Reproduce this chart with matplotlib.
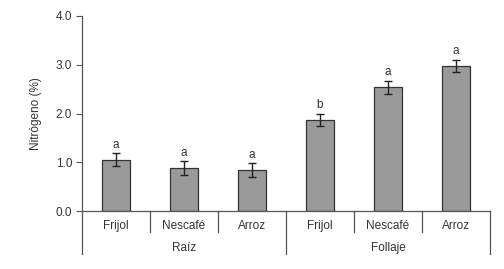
import numpy as np
import matplotlib.pyplot as plt
import matplotlib.transforms as mtransforms

plt.rcParams['font.family'] = ['Liberation Sans', 'DejaVu Sans']

categories = ['Frijol', 'Nescafé', 'Arroz', 'Frijol', 'Nescafé', 'Arroz']
groups = ['Raíz', 'Follaje']
values = [1.05, 0.88, 0.84, 1.87, 2.54, 2.98]
errors = [0.13, 0.14, 0.14, 0.13, 0.13, 0.12]
letters = ['a', 'a', 'a', 'b', 'a', 'a']
yticks = [0.0, 1.0, 2.0, 3.0, 4.0]

fig = plt.figure(figsize=(5.04, 2.69), dpi=100)
ax = fig.add_axes([82 / 504, 1 - 211 / 269, 408 / 504, 195 / 269])

line_col = '#555555'
text_col = '#333333'
fs = 8.5

x = np.arange(len(values))
ax.bar(x, values, width=0.42, color='#9a9a9a', edgecolor='#333333', linewidth=0.9, zorder=2)
ax.errorbar(x, values, yerr=errors, fmt='none', ecolor='#222222', elinewidth=1.0,
            capsize=3, capthick=1.0, zorder=3)
for xi, v, e, l in zip(x, values, errors, letters):
    ax.text(xi, v + e + 0.05, l, ha='center', va='bottom', fontsize=fs, color=text_col)

ax.set_xlim(-0.5, len(values) - 0.5)
ax.set_ylim(0, 4.0)
ax.set_yticks(yticks)
ax.set_yticklabels([f'{t:.1f}' for t in yticks], fontsize=fs, color=text_col)
ax.tick_params(axis='y', direction='out', length=4, width=0.8, color=line_col, pad=3)
ax.set_xticks([])
ax.set_ylabel('Nitrógeno (%)', fontsize=fs, color=text_col, labelpad=10)

for s in ['top', 'right']:
    ax.spines[s].set_visible(False)
ax.spines['left'].set_color(line_col)
ax.spines['bottom'].set_color(line_col)
ax.spines['left'].set_linewidth(0.9)
ax.spines['bottom'].set_linewidth(0.9)

trans = mtransforms.blended_transform_factory(ax.transData, ax.transAxes)
short = -21 / 195
deep = -43 / 195
# left axis extension
ax.plot([-0.5, -0.5], [0, deep], transform=trans, color=line_col, lw=0.9, clip_on=False)
for b in [0.5, 1.5, 3.5, 4.5]:
    ax.plot([b, b], [0, short], transform=trans, color=line_col, lw=0.9, clip_on=False)
for b in [2.5, 5.5]:
    ax.plot([b, b], [0, deep], transform=trans, color=line_col, lw=0.9, clip_on=False)

for xi, c in zip(x, categories):
    ax.text(xi, -15 / 195, c, transform=trans, ha='center', va='center', fontsize=fs, color=text_col)
for gi, g in enumerate(groups):
    ax.text(gi * 3 + 1, -37 / 195, g, transform=trans, ha='center', va='center', fontsize=fs, color=text_col)

fig.savefig('out.png', dpi=100)
